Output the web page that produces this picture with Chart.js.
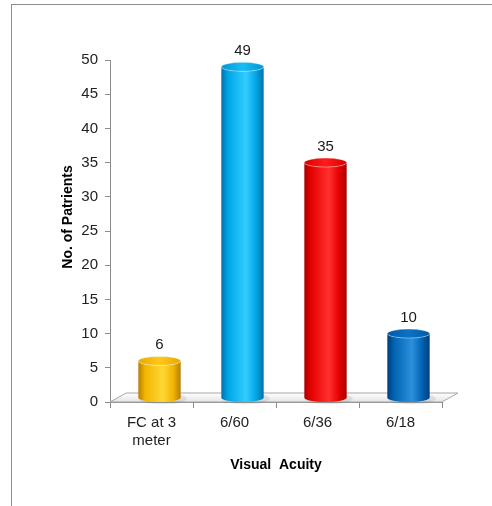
<!DOCTYPE html>
<html>
<head>
<meta charset="utf-8">
<script src="https://cdn.jsdelivr.net/npm/chart.js@4.4.1/dist/chart.umd.min.js"></script>
<style>
  html, body { margin: 0; padding: 0; background: #ffffff; }
  #wrap { position: relative; width: 492px; height: 506px; overflow: hidden; }
  #wrap canvas { position: absolute; left: 0; top: 0; }
  #frame { position: absolute; left: 11px; top: 4px; right: -2px; bottom: -2px;
           border-left: 1px solid #8c8c8c; border-top: 1px solid #8c8c8c; pointer-events: none; }
</style>
</head>
<body>
<div id="wrap">
  <canvas id="chart" width="492" height="506"></canvas>
  <div id="frame"></div>
</div>
<script>
// Visual acuity groups and patient counts
const categories = [['FC at 3', 'meter'], '6/60', '6/36', '6/18'];
const patients = [6, 49, 35, 10];
const yMin = 0;
const yMax = 50;
const yStep = 5;
const xTitle = 'Visual  Acuity';
const yTitle = 'No. of Patrients';

// Cylinder shading per bar: edge, body, highlight, cap
const palette = [
  { edge: '#b57f00', mid: '#f2b600', light: '#ffd836', cap: '#ffc81a', capEdge: '#e9a800' },
  { edge: '#0072aa', mid: '#00a6e6', light: '#33ccff', cap: '#1abcf4', capEdge: '#0096d4' },
  { edge: '#a80000', mid: '#e60000', light: '#ff3030', cap: '#ff1c1c', capEdge: '#d80000' },
  { edge: '#003c78', mid: '#0064b4', light: '#2d90dc', cap: '#0b72c6', capEdge: '#005aa6' }
];

const FONT = "'Liberation Sans', Arial, sans-serif";
const DEPTH_X = 16;   // floor depth, horizontal
const DEPTH_Y = 9;    // floor depth, vertical
const SHIFT = 8;      // bars stand in the middle of the floor depth

function drawCylinder(ctx, cx, top, base, w, p) {
  const rx = w / 2, ry = 4.5;
  const x0 = cx - rx, x1 = cx + rx;

  // soft shadow on the floor
  ctx.fillStyle = 'rgba(0,0,0,0.08)';
  ctx.beginPath();
  ctx.ellipse(cx + 3, base + 1, rx + 3, ry + 1.5, 0, 0, Math.PI * 2);
  ctx.fill();

  // body
  const g = ctx.createLinearGradient(x0, 0, x1, 0);
  g.addColorStop(0, p.edge);
  g.addColorStop(0.16, p.mid);
  g.addColorStop(0.58, p.light);
  g.addColorStop(0.82, p.mid);
  g.addColorStop(1, p.edge);
  ctx.fillStyle = g;
  ctx.beginPath();
  ctx.moveTo(x0, top);
  ctx.lineTo(x0, base);
  ctx.ellipse(cx, base, rx, ry, 0, Math.PI, 0, true);
  ctx.lineTo(x1, top);
  ctx.ellipse(cx, top, rx, ry, 0, 0, Math.PI, false);
  ctx.closePath();
  ctx.fill();

  // top cap
  const cg = ctx.createLinearGradient(x0, 0, x1, 0);
  cg.addColorStop(0, p.capEdge);
  cg.addColorStop(0.5, p.cap);
  cg.addColorStop(1, p.capEdge);
  ctx.fillStyle = cg;
  ctx.beginPath();
  ctx.ellipse(cx, top, rx, ry, 0, 0, Math.PI * 2);
  ctx.fill();
  ctx.strokeStyle = 'rgba(255,255,255,0.35)';
  ctx.lineWidth = 1;
  ctx.stroke();
}

const cylinderPlugin = {
  id: 'cylinders',
  beforeDatasetsDraw(chart) {
    // 3D floor under the bars
    const { ctx, chartArea: a } = chart;
    ctx.save();
    ctx.beginPath();
    ctx.moveTo(a.left, a.bottom);
    ctx.lineTo(a.right, a.bottom);
    ctx.lineTo(a.right + DEPTH_X, a.bottom - DEPTH_Y);
    ctx.lineTo(a.left + DEPTH_X, a.bottom - DEPTH_Y);
    ctx.closePath();
    const g = ctx.createLinearGradient(0, a.bottom - DEPTH_Y, 0, a.bottom);
    g.addColorStop(0, '#ffffff');
    g.addColorStop(1, '#e4e4e4');
    ctx.fillStyle = g;
    ctx.fill();
    ctx.strokeStyle = '#a6a6a6';
    ctx.lineWidth = 1;
    ctx.stroke();
    ctx.restore();
  },
  beforeDatasetDraw(chart, args) {
    const { ctx } = chart;
    const base = chart.chartArea.bottom - DEPTH_Y / 2;
    ctx.save();
    args.meta.data.forEach((el, i) => {
      const { x, y, width } = el.getProps(['x', 'y', 'width'], true);
      drawCylinder(ctx, x + SHIFT, y, base, width, palette[i]);
    });
    ctx.restore();
    return false;
  },
  afterDatasetsDraw(chart) {
    const { ctx } = chart;
    const meta = chart.getDatasetMeta(0);
    ctx.save();
    ctx.font = '15px ' + FONT;
    ctx.fillStyle = '#1a1a1a';
    ctx.textAlign = 'center';
    ctx.textBaseline = 'middle';
    meta.data.forEach((el, i) => {
      ctx.fillText(String(patients[i]), el.x + SHIFT, el.y - 16);
    });
    ctx.restore();
  },
  afterDraw(chart) {
    const { ctx, chartArea: a } = chart;
    ctx.save();
    ctx.font = 'bold 14px ' + FONT;
    ctx.fillStyle = '#000000';
    ctx.textAlign = 'center';
    ctx.textBaseline = 'middle';
    ctx.fillText(xTitle, (a.left + a.right) / 2, a.bottom + 63);
    ctx.translate(a.left - 42, (a.top + a.bottom) / 2 - 14);
    ctx.rotate(-Math.PI / 2);
    ctx.fillText(yTitle, 0, 0);
    ctx.restore();
  }
};

new Chart(document.getElementById('chart'), {
  type: 'bar',
  data: {
    labels: categories,
    datasets: [{
      data: patients,
      backgroundColor: palette.map(p => p.mid),
      categoryPercentage: 1,
      barPercentage: 0.51
    }]
  },
  options: {
    responsive: false,
    animation: false,
    layout: { padding: { left: 0, top: 60, right: 50, bottom: 0 } },
    plugins: {
      legend: { display: false },
      tooltip: { enabled: false }
    },
    scales: {
      x: {
        grid: { display: true, drawOnChartArea: false, drawTicks: true, tickLength: 6, color: '#8c8c8c' },
        border: { display: true, color: '#8c8c8c' },
        ticks: { color: '#222222', font: { family: FONT, size: 15 }, padding: 6, maxRotation: 0 },
        afterFit(scale) { scale.height = 104; }
      },
      y: {
        min: yMin,
        max: yMax,
        grid: { display: true, drawOnChartArea: false, drawTicks: true, tickLength: 5, color: '#8c8c8c' },
        border: { display: true, color: '#8c8c8c' },
        ticks: { stepSize: yStep, color: '#222222', font: { family: FONT, size: 15 }, padding: 7 },
        afterFit(scale) { scale.width = 110; }
      }
    }
  },
  plugins: [cylinderPlugin]
});
</script>
</body>
</html>
